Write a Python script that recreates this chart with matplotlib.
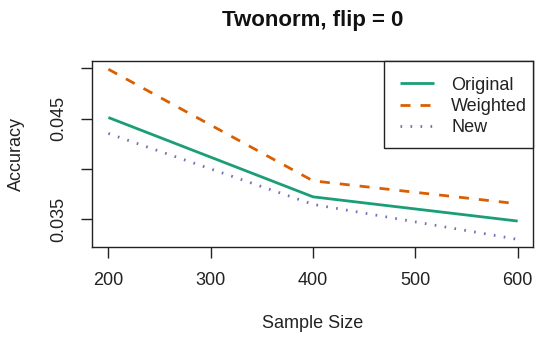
import matplotlib
matplotlib.use("Agg")
import matplotlib.pyplot as plt
from matplotlib.patches import Rectangle

sample_size = [200, 400, 600]
original = [0.04510, 0.03721, 0.03480]
weighted = [0.04990, 0.03880, 0.03652]
new = [0.04351, 0.03646, 0.03298]
x_ticks = [200, 300, 400, 500, 600]
y_ticks = [0.035, 0.040, 0.045, 0.050]
y_ticklabels = ["0.035", "", "0.045", ""]

plt.rcParams['font.family'] = ['Liberation Sans', 'DejaVu Sans']

W, H = 535, 339
fig = plt.figure(figsize=(W / 100, H / 100), dpi=100)
left, right, top, bottom = 92, 533, 61, 246.7
ax = fig.add_axes([left / W, 1 - bottom / H, (right - left) / W, (bottom - top) / H])

ax.plot(sample_size, original, color="#1B9E77", lw=2.0, label="Original", solid_capstyle="butt")
ax.plot(sample_size, weighted, color="#D95F02", lw=2.0, dashes=(3.6, 3.6), label="Weighted", dash_capstyle="butt")
ax.plot(sample_size, new, color="#7570B3", lw=2.0, dashes=(0.6, 3.0), label="New", dash_capstyle="butt")

ax.set_xlim(184, 615)
ax.set_ylim(0.03225, 0.05072)
ax.set_xticks(x_ticks)
ax.set_xticklabels([str(v) for v in x_ticks])
ax.set_yticks(y_ticks)
ax.set_yticklabels(y_ticklabels, rotation=90, va="center")

for s in ax.spines.values():
    s.set_linewidth(1.0)
    s.set_color("#222222")
ax.tick_params(axis="both", direction="out", length=8, width=1.0, color="#222222",
               labelsize=13, labelcolor="#222222")
ax.tick_params(axis="x", pad=10)
ax.tick_params(axis="y", pad=10)

ax.set_title("Twonorm, flip = 0", fontsize=16, fontweight="bold", pad=25, color="#111111")
ax.set_xlabel("Sample Size", fontsize=13, labelpad=19, color="#222222")
ax.set_ylabel("Accuracy", fontsize=13, labelpad=18, color="#222222")

# legend box (R-style) drawn in figure pixel coordinates
lx0, lx1, ly0, ly1 = 384, 533, 61, 147.7
fig.patches.append(Rectangle((lx0 / W, 1 - ly1 / H), (lx1 - lx0) / W, (ly1 - ly0) / H,
                             transform=fig.transFigure, facecolor="white",
                             edgecolor="#222222", linewidth=1.0, zorder=3))
leg = fig.legend(*ax.get_legend_handles_labels(), loc="upper left",
                 bbox_to_anchor=(400 / W, 1 - 76.5 / H), borderaxespad=0, borderpad=0,
                 frameon=False, fontsize=13, handlelength=1.9, handletextpad=0.93,
                 labelspacing=0.24)
leg.set_zorder(4)
for t in leg.get_texts():
    t.set_color("#222222")

fig.savefig("out.png", dpi=100)
